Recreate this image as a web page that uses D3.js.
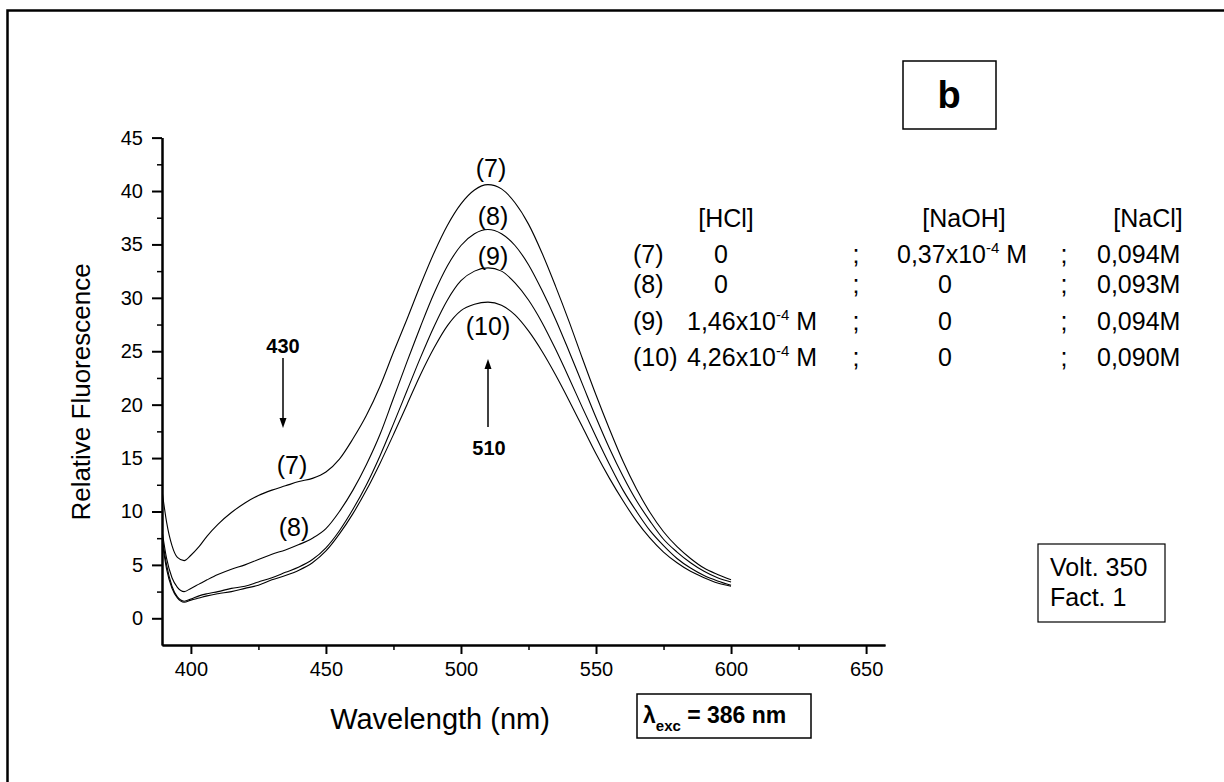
<!DOCTYPE html>
<html>
<head>
<meta charset="utf-8">
<script src="https://cdn.jsdelivr.net/npm/d3@7"></script>
<style>
  body { margin: 0; background: #fff; }
  text { font-family: "Liberation Sans", Arial, sans-serif; fill: #000; }
</style>
</head>
<body>
<div id="chart"></div>
<script>
// wavelength grid (nm)
const wavelength = [389.5, 391, 393, 395, 397.5, 400, 403, 406, 410, 415, 420, 425, 430, 435, 440, 445,
  450, 455, 460, 465, 470, 475, 480, 485, 490, 495, 500, 505, 510, 515, 520, 525, 530, 535, 540,
  545, 550, 555, 560, 565, 570, 575, 580, 585, 590, 595, 600];

// relative fluorescence for each sample
const curve7 = [11.6, 9.0, 6.8, 5.7, 5.4, 5.9, 6.7, 7.7, 8.8, 9.9, 10.8, 11.5, 12.0, 12.4, 12.8, 13.1,
  13.7, 14.9, 16.8, 19.0, 21.7, 24.9, 28.0, 31.2, 34.2, 36.8, 38.8, 40.1, 40.6, 40.2, 38.9, 36.9, 34.2, 31.1, 27.8,
  24.3, 20.9, 17.7, 14.7, 12.1, 9.9, 8.1, 6.7, 5.6, 4.7, 4.1, 3.6];
const curve8 = [7.9, 5.6, 3.8, 2.9, 2.5, 2.8, 3.2, 3.6, 4.1, 4.6, 5.0, 5.5, 6.0, 6.4, 6.9, 7.5,
  8.4, 10.0, 12.0, 14.4, 17.2, 20.6, 24.0, 27.3, 30.4, 33.0, 34.9, 36.0, 36.4, 36.0, 34.9, 33.1, 30.7, 28.0, 25.0,
  21.9, 18.8, 15.9, 13.3, 11.0, 9.1, 7.4, 6.2, 5.2, 4.4, 3.8, 3.4];
const curve9 = [7.4, 5.0, 3.0, 2.0, 1.6, 1.8, 2.1, 2.3, 2.5, 2.8, 3.0, 3.4, 3.8, 4.3, 4.8, 5.5,
  6.6, 8.2, 10.2, 12.5, 15.2, 18.2, 21.3, 24.4, 27.3, 29.8, 31.6, 32.5, 32.8, 32.5, 31.4, 29.8, 27.7, 25.2, 22.5,
  19.7, 17.0, 14.4, 12.0, 10.0, 8.2, 6.8, 5.6, 4.7, 4.0, 3.5, 3.1];
const curve10 = [7.0, 4.6, 2.8, 1.9, 1.5, 1.7, 1.9, 2.1, 2.3, 2.5, 2.8, 3.1, 3.6, 4.0, 4.5, 5.2,
  6.3, 7.9, 9.8, 12.0, 14.5, 17.2, 20.0, 22.8, 25.3, 27.4, 28.8, 29.4, 29.6, 29.3, 28.4, 26.9, 25.0, 22.8, 20.4,
  17.9, 15.4, 13.1, 11.0, 9.1, 7.5, 6.2, 5.2, 4.4, 3.8, 3.3, 3.0];

const xTickValues = [400, 450, 500, 550, 600, 650];
const xMinorValues = [425, 475, 525, 575, 625];
const yTickValues = [0, 5, 10, 15, 20, 25, 30, 35, 40, 45];
const yMinorValues = [2.5, 7.5, 12.5, 17.5, 22.5, 27.5, 32.5, 37.5, 42.5];

// table of conditions
const tableHeader = ["[HCl]", "[NaOH]", "[NaCl]"];
const tableLabels = ["(7)", "(8)", "(9)", "(10)"];
const hclValues = ["0", "0", "1,46", "4,26"];
const naohValues = ["0,37", "0", "0", "0"];
const naclValues = ["0,094M", "0,093M", "0,094M", "0,090M"];

const svg = d3.select("#chart")
  .append("svg")
  .attr("width", 1224)
  .attr("height", 782);

// outer frame (runs off the right and bottom edges)
svg.append("rect")
  .attr("x", 7.5).attr("y", 10.5)
  .attr("width", 1240).attr("height", 800)
  .attr("fill", "none")
  .attr("stroke", "#000")
  .attr("stroke-width", 2.5);

const x = d3.scaleLinear().domain([389.3, 657]).range([162, 885]);
const y = d3.scaleLinear().domain([-2.5, 45]).range([645, 137.6]);

// axes: minor ticks first, then major ticks with labels
function styleAxis(g, w) {
  g.select(".domain").attr("stroke-width", 2);
  g.selectAll(".tick line").attr("stroke-width", w);
  g.selectAll(".tick text").attr("font-size", 20).attr("fill", "#000");
}

svg.append("g")
  .attr("transform", "translate(0,645)")
  .call(d3.axisBottom(x).tickValues(xMinorValues).tickSize(5).tickFormat("").tickSizeOuter(0))
  .call(g => styleAxis(g, 1.5));
svg.append("g")
  .attr("transform", "translate(0,645)")
  .call(d3.axisBottom(x).tickValues(xTickValues).tickSize(9).tickPadding(8).tickSizeOuter(0))
  .call(g => styleAxis(g, 2));

svg.append("g")
  .attr("transform", "translate(162,0)")
  .call(d3.axisLeft(y).tickValues(yMinorValues).tickSize(5).tickFormat("").tickSizeOuter(0))
  .call(g => styleAxis(g, 1.5));
svg.append("g")
  .attr("transform", "translate(162,0)")
  .call(d3.axisLeft(y).tickValues(yTickValues).tickSize(10).tickPadding(9).tickSizeOuter(0))
  .call(g => styleAxis(g, 2));

// axis titles
svg.append("text")
  .attr("transform", "translate(90,392) rotate(-90)")
  .attr("text-anchor", "middle")
  .attr("font-size", 26)
  .text("Relative Fluorescence");
svg.append("text")
  .attr("x", 440).attr("y", 729)
  .attr("text-anchor", "middle")
  .attr("font-size", 29)
  .text("Wavelength (nm)");

// spectra
const line = d3.line()
  .x(d => x(d[0]))
  .y(d => y(d[1]))
  .curve(d3.curveMonotoneX);

[curve7, curve8, curve9, curve10].forEach(values => {
  svg.append("path")
    .datum(wavelength.map((w, i) => [w, values[i]]))
    .attr("d", line)
    .attr("fill", "none")
    .attr("stroke", "#000")
    .attr("stroke-width", 1.1);
});

// curve labels
const peakLabels = [[491, 177, "(7)"], [493, 225, "(8)"], [493, 265, "(9)"], [488, 335, "(10)"],
  [292, 474, "(7)"], [294, 536, "(8)"]];
svg.selectAll(".clabel")
  .data(peakLabels)
  .enter()
  .append("text")
  .attr("x", d => d[0]).attr("y", d => d[1])
  .attr("text-anchor", "middle")
  .attr("font-size", 25)
  .text(d => d[2]);

// arrows marking 430 and 510 nm
function arrow(x0, yFrom, yTo) {
  const dir = yTo > yFrom ? 1 : -1;
  svg.append("line")
    .attr("x1", x0).attr("x2", x0)
    .attr("y1", yFrom).attr("y2", yTo - dir * 8)
    .attr("stroke", "#000").attr("stroke-width", 1.5);
  svg.append("path")
    .attr("d", `M${x0 - 3.5},${yTo - dir * 10}L${x0 + 3.5},${yTo - dir * 10}L${x0},${yTo}Z`)
    .attr("fill", "#000");
}
arrow(283, 358, 428);
arrow(488, 427, 359);

svg.append("text")
  .attr("x", 283).attr("y", 353)
  .attr("text-anchor", "middle")
  .attr("font-size", 20).attr("font-weight", "bold")
  .text("430");
svg.append("text")
  .attr("x", 489).attr("y", 455)
  .attr("text-anchor", "middle")
  .attr("font-size", 20).attr("font-weight", "bold")
  .text("510");

// "b" panel label
svg.append("rect")
  .attr("x", 903).attr("y", 61).attr("width", 93).attr("height", 68)
  .attr("fill", "none").attr("stroke", "#000").attr("stroke-width", 1.5);
svg.append("text")
  .attr("x", 949).attr("y", 108)
  .attr("text-anchor", "middle")
  .attr("font-size", 38).attr("font-weight", "bold")
  .text("b");

// conditions table
const tableFont = 25;
const headerX = [726, 964, 1148];
svg.selectAll(".thead")
  .data(tableHeader)
  .enter()
  .append("text")
  .attr("x", (d, i) => headerX[i]).attr("y", 227)
  .attr("text-anchor", "middle")
  .attr("font-size", tableFont)
  .text(d => d);

const rowY = [263, 293, 330, 366];

function valueCell(v, xStart, xCenter, rowIndex) {
  const t = svg.append("text")
    .attr("y", rowY[rowIndex])
    .attr("font-size", tableFont);
  if (v === "0") {
    t.attr("x", xCenter).attr("text-anchor", "middle").text("0");
  } else {
    t.attr("x", xStart);
    t.append("tspan").text(v + "x10");
    t.append("tspan").attr("font-size", 15).attr("dy", -10).text("-4");
    t.append("tspan").attr("dy", 10).text(" M");
  }
}

tableLabels.forEach((lab, i) => {
  svg.append("text")
    .attr("x", 633).attr("y", rowY[i])
    .attr("font-size", tableFont)
    .text(lab);
  valueCell(hclValues[i], 687, 721, i);
  svg.append("text").attr("x", 856).attr("y", rowY[i]).attr("text-anchor", "middle")
    .attr("font-size", tableFont).text(";");
  valueCell(naohValues[i], 897, 945, i);
  svg.append("text").attr("x", 1064).attr("y", rowY[i]).attr("text-anchor", "middle")
    .attr("font-size", tableFont).text(";");
  svg.append("text")
    .attr("x", 1097).attr("y", rowY[i])
    .attr("font-size", tableFont)
    .text(naclValues[i]);
});

// instrument settings box
svg.append("rect")
  .attr("x", 1038).attr("y", 544).attr("width", 127).attr("height", 78)
  .attr("fill", "none").attr("stroke", "#000").attr("stroke-width", 1.2);
svg.append("text").attr("x", 1050).attr("y", 576).attr("font-size", 25).text("Volt. 350");
svg.append("text").attr("x", 1050).attr("y", 606).attr("font-size", 25).text("Fact. 1");

// excitation wavelength box
svg.append("rect")
  .attr("x", 637).attr("y", 694).attr("width", 174).attr("height", 44)
  .attr("fill", "none").attr("stroke", "#000").attr("stroke-width", 1.5);
const lam = svg.append("text")
  .attr("x", 643).attr("y", 723)
  .attr("font-size", 23).attr("font-weight", "bold");
lam.append("tspan").text("λ");
lam.append("tspan").attr("font-size", 15).attr("dy", 8).text("exc");
lam.append("tspan").attr("dy", -8).text(" = 386 nm");
</script>
</body>
</html>
